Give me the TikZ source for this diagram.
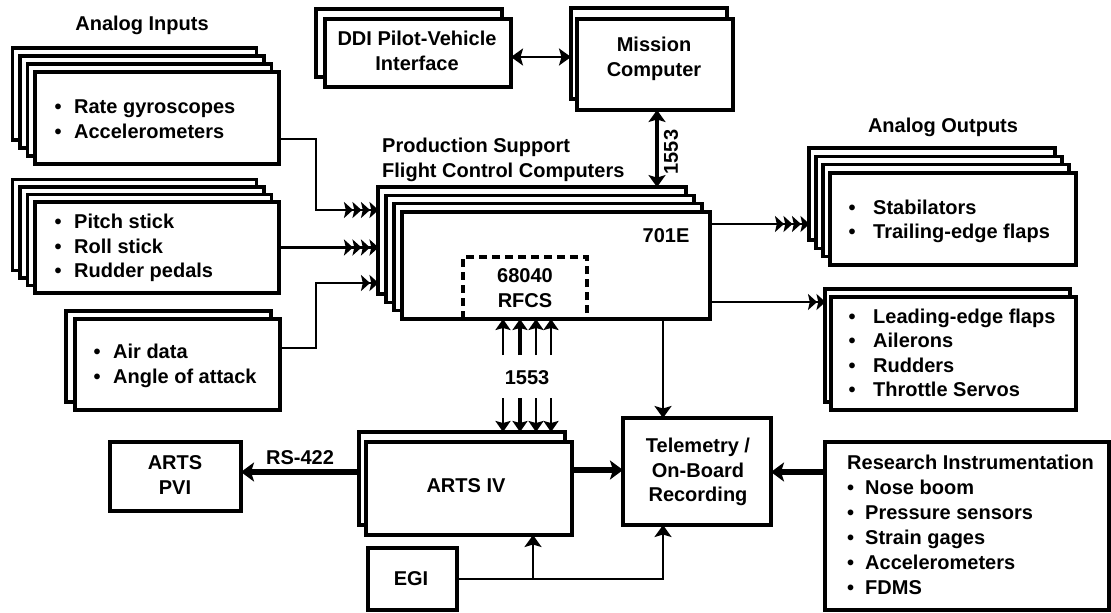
\documentclass[tikz,border=0pt]{standalone}
\usepackage{fontspec}
\setmainfont{Liberation Sans}
\usetikzlibrary{arrows.meta}
\newcommand\tf{\fontsize{20}{24.5}\selectfont\bfseries}
\newcommand\bl[1][19.5pt]{\makebox[#1][l]{\textbullet}}
\newcommand\stackedbox[8]{%
  \foreach \i in {#2,...,1}{%
    \node[lay, minimum width={#5-#3}, minimum height={#6-#4}] (#1-\i) at ({(#3+#5)/2-\i*#7},{(#4+#6)/2-\i*#8}) {};
  }%
  \node[lay, minimum width={#5-#3}, minimum height={#6-#4}] (#1) at ({(#3+#5)/2},{(#4+#6)/2}) {};
}
\newcommand\plainbox[5]{%
  \node[lay, minimum width={#4-#2}, minimum height={#5-#3}] (#1) at ({(#2+#4)/2},{(#3+#5)/2}) {};
}
\tikzset{
  lay/.style={draw, line width=3.3pt, fill=white, inner sep=0pt, outer sep=0pt},
  txt/.style={font=\tf, inner sep=0pt},
  conn/.style={line width=2.2pt},
  q4/.style={-{Stealth[length=9pt,width=16pt,inset=1.8pt,sep=-0.5pt]Stealth[length=9pt,width=16pt,inset=1.8pt,sep=-0.5pt]Stealth[length=9pt,width=16pt,inset=1.8pt,sep=-0.5pt]Stealth[length=9pt,width=16pt,inset=1.8pt,sep=-0.5pt]}},
  q2/.style={-{Stealth[length=9pt,width=16pt,inset=1.8pt,sep=-0.5pt]Stealth[length=9pt,width=16pt,inset=1.8pt,sep=-0.5pt]}},
  ar/.style={-{Stealth[length=12pt,width=17pt,inset=2.5pt]}},
  dbl/.style={{Stealth[length=12pt,width=17pt,inset=2.5pt]}-{Stealth[length=12pt,width=17pt,inset=2.5pt]}},
  fat/.style={line width=6pt, -{Stealth[length=13pt,width=19pt,inset=3pt]}},
  bus/.style={line width=2.4pt, -{Stealth[length=11pt,width=15pt,inset=2pt]}},
}
\begin{document}
\begin{tikzpicture}[x=1pt,y=-1pt]
\useasboundingbox (0,0) rectangle (1111,613);

% ---------- boxes ----------
\stackedbox{in1}{3}{35}{72}{279}{164}{7.5}{8}
\stackedbox{in2}{3}{35}{202}{279}{293}{7.5}{7.5}
\stackedbox{in3}{1}{75}{319}{280}{410}{9}{8}
\stackedbox{ddi}{1}{325}{19}{511}{87}{9}{10}
\stackedbox{mc}{1}{577}{19}{733}{110}{6}{11}
\stackedbox{fcc}{3}{402}{212}{710}{319}{8}{8.3}
\stackedbox{out1}{3}{830}{173}{1076}{265}{7}{8.3}
\stackedbox{out2}{1}{831}{297}{1076}{410}{6}{8}
\stackedbox{arts}{1}{366}{442}{572}{535}{7}{10}
\plainbox{pvi}{110}{442}{241}{511}
\plainbox{egi}{368}{548}{457}{610}
\plainbox{tel}{623}{418}{771}{525}
\plainbox{res}{825}{442}{1109}{610}
\node[draw, line width=3.3pt, dash pattern=on 8pt off 5pt, inner sep=0pt, outer sep=0pt,
      minimum width=124pt, minimum height=62pt] (rfcs) at (525,288) {};

% ---------- texts ----------
\node[txt] (tin) at (142,25) {Analog Inputs};
\node[txt, anchor=west, align=left] (tin1) at (54.5,119) {\bl Rate gyroscopes\\\bl Accelerometers};
\node[txt, anchor=west, align=left] (tin2) at (54.5,248) {\bl Pitch stick\\\bl Roll stick\\\bl Rudder pedals};
\node[txt, anchor=west, align=left] (tin3) at (93.5,366) {\bl Air data\\\bl Angle of attack};
\node[txt, align=center] (tddi) at (417,51) {DDI Pilot-Vehicle\\Interface};
\node[txt, align=center] (tmc) at (654,59) {Mission\\Computer};
\node[txt, anchor=west, align=left] (tfcc) at (382,160) {Production Support\\Flight Control Computers};
\node[txt, rotate=90] (tbus1) at (671,152) {1553};
\node[txt] (t701) at (666,236) {701E};
\node[txt, align=center] (trfcs) at (525,288) {68040\\RFCS};
\node[txt] (tbus2) at (527,378) {1553};
\node[txt] (tout) at (943,127) {Analog Outputs};
\node[txt, anchor=west, align=left] (tout1) at (848.5,221.5) {\bl[24.5pt]Stabilators\\\bl[24.5pt]Trailing-edge flaps};
\node[txt, anchor=west, align=left] (tout2) at (848.5,353) {\bl[24.5pt]Leading-edge flaps\\\bl[24.5pt]Ailerons\\\bl[24.5pt]Rudders\\\bl[24.5pt]Throttle Servos};
\node[txt] (tarts) at (466,486) {ARTS IV};
\node[txt, align=center] (tpvi) at (175,475) {ARTS\\PVI};
\node[txt] (trs) at (300,458) {RS-422};
\node[txt, align=center] (ttel) at (698,472) {Telemetry /\\On-Board\\Recording};
\node[txt] (tegi) at (411,579) {EGI};
\node[txt, anchor=west, align=left, font=\fontsize{20}{25}\selectfont\bfseries] (tres) at (847,524.5)
  {Research Instrumentation\\\bl[18pt]Nose boom\\\bl[18pt]Pressure sensors\\\bl[18pt]Strain gages\\\bl[18pt]Accelerometers\\\bl[18pt]FDMS};

% ---------- connectors ----------
\draw[conn,q4] ([yshift=-21pt]in1.east) -| (316,210) -- (fcc-3.west |- 0,210);
\draw[conn,q4] (in2.east) -- (fcc-3.west |- in2.east);
\draw[conn,q2] ([yshift=16.5pt]in3.east) -| (316,283) -- (fcc-3.west |- 0,283);
\draw[conn,q4] (fcc.east |- 0,224) -- (out1-3.west |- 0,224);
\draw[conn,q2] (fcc.east |- 0,302) -- (out2-1.west |- 0,302);
\draw[line width=2.8pt,dbl] (ddi.east |- 0,57) -- (mc-1.west |- 0,57);
\draw[line width=3.3pt,dbl] (mc.south -| 657,0) -- (fcc-3.north -| 657,0);
\draw[line width=2.8pt,ar] (fcc.south -| 663,0) -- (tel.north -| 663,0);

\coordinate (u1) at (503,355);
\coordinate (u2) at (520,355);
\coordinate (u3) at (536,355);
\coordinate (u4) at (551,355);
\coordinate (d1) at (503,398);
\coordinate (d2) at (520,398);
\coordinate (d3) at (536,398);
\coordinate (d4) at (551,398);
\draw[bus] (u1) -- (fcc.south -| u1);
\draw[bus, line width=4.8pt] (u2) -- (fcc.south -| u2);
\draw[bus] (u3) -- (fcc.south -| u3);
\draw[bus] (u4) -- (fcc.south -| u4);
\draw[bus] (d1) -- (arts-1.north -| d1);
\draw[bus, line width=4.8pt] (d2) -- (arts-1.north -| d2);
\draw[bus] (d3) -- (arts-1.north -| d3);
\draw[bus] (d4) -- (arts-1.north -| d4);

\draw[fat] (arts.east |- 0,470) -- (tel.west |- 0,470);
\draw[fat] (arts-1.west |- 0,472) -- (pvi.east |- 0,472);
\draw[fat] (res.west |- 0,472) -- (tel.east |- 0,472);
\draw[line width=2.6pt,ar] (egi.east) -| (tel.south -| 663,0);
\draw[line width=2.6pt,ar] (egi.east -| 533,0) -- (arts.south -| 533,0);
\end{tikzpicture}
\end{document}
